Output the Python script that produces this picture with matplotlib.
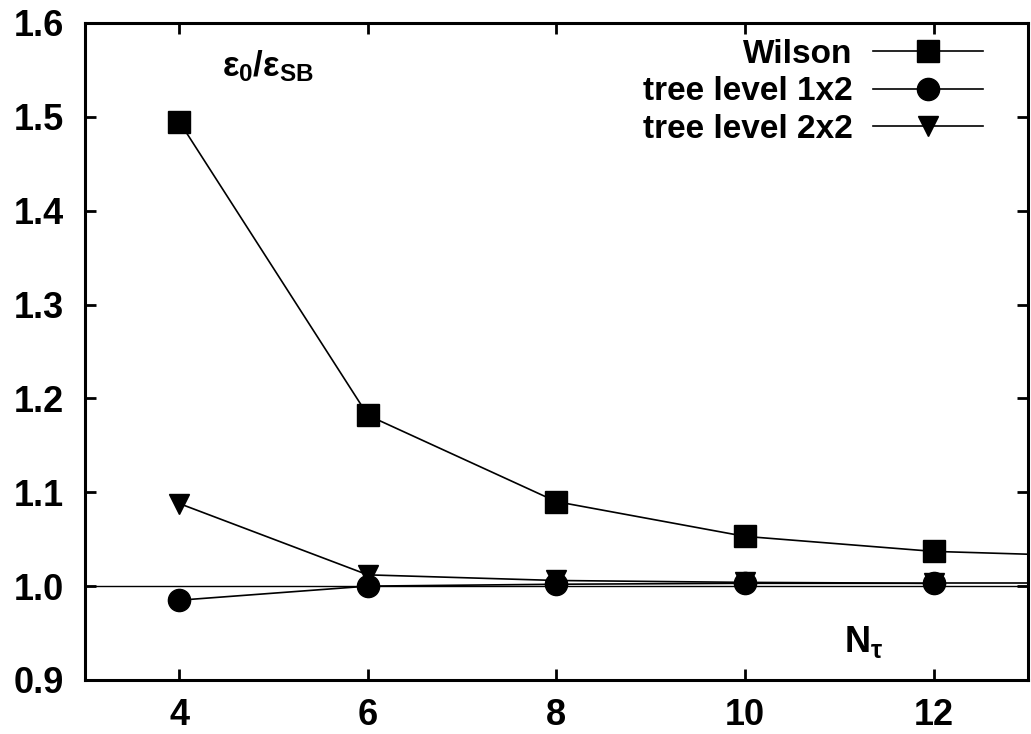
import numpy as np
import matplotlib.pyplot as plt

plt.rcParams['font.family'] = ['Liberation Sans', 'DejaVu Sans']
plt.rcParams['font.weight'] = 'bold'
plt.rcParams['mathtext.fontset'] = 'custom'
plt.rcParams['mathtext.rm'] = 'Liberation Sans:bold'
plt.rcParams['mathtext.it'] = 'Liberation Sans:bold'
plt.rcParams['mathtext.bf'] = 'Liberation Sans:bold'

# N_tau values and energy density ratios
n_tau = [4, 6, 8, 10, 12]
wilson = [1.495, 1.182, 1.090, 1.053, 1.037]
tree_1x2 = [0.985, 1.000, 1.002, 1.003, 1.003]
tree_2x2 = [1.088, 1.012, 1.006, 1.004, 1.003]

# continuation of the curves to the right edge
n_tail = [12, 13]
wilson_tail = [1.037, 1.034]
tree_1x2_tail = [1.003, 1.003]

xticks = [4, 6, 8, 10, 12]
yticks = [0.9, 1.0, 1.1, 1.2, 1.3, 1.4, 1.5, 1.6]

fig = plt.figure(figsize=(10.31, 7.34), dpi=100)
ax = fig.add_axes([0.0824, 0.0736, 0.9146, 0.8951])

ax.axhline(1.0, color='black', lw=1.0, zorder=1)

ax.plot(n_tau, wilson, '-', color='black', lw=1.2, marker='s', ms=16, label='Wilson')
ax.plot(n_tau, tree_1x2, '-', color='black', lw=1.2, marker='o', ms=16, label='tree level 1x2')
ax.plot(n_tau, tree_2x2, '-', color='black', lw=1.2, marker='v', ms=14, label='tree level 2x2')
ax.plot(n_tail, wilson_tail, '-', color='black', lw=1.2)
ax.plot(n_tail, tree_1x2_tail, '-', color='black', lw=1.2)

ax.set_xlim(3, 13)
ax.set_ylim(0.9, 1.6)
ax.set_xticks(xticks)
ax.set_yticks(yticks)
ax.set_yticklabels([f'{v:.1f}' for v in yticks])

for s in ax.spines.values():
    s.set_linewidth(2.2)

ax.tick_params(direction='in', length=8, width=2, top=True, right=True,
               labelsize=26)
ax.tick_params(axis='x', pad=13)
ax.tick_params(axis='y', pad=15)

ax.text(4.45, 1.543, r'$\varepsilon_0/\varepsilon_{SB}$', fontsize=25)
ax.text(11.05, 0.93, r'N$_\tau$', fontsize=26)

ax.legend(loc='upper right', bbox_to_anchor=(0.952, 0.976), frameon=False,
          markerfirst=False, fontsize=24, handlelength=3.3, handletextpad=0.6,
          labelspacing=0.2, borderpad=0, borderaxespad=0)

fig.savefig('out.png', dpi=100)
